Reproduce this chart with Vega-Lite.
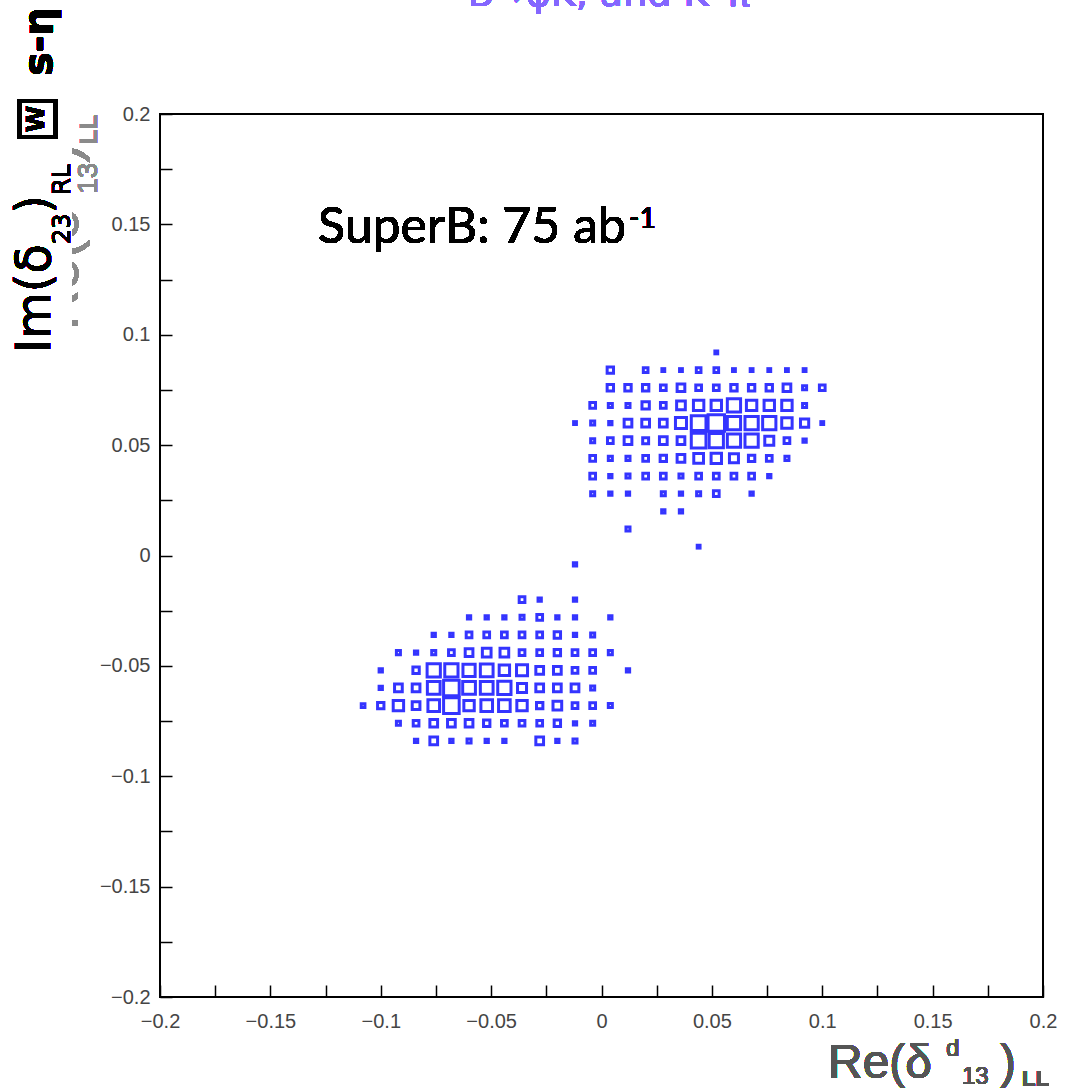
{
  "$schema": "https://vega.github.io/schema/vega-lite/v6.json",
  "width": 883,
  "height": 883,
  "autosize": "none",
  "padding": {"left": 160, "top": 114, "right": 25, "bottom": 94},
  "background": "white",
  "config": {
    "view": {"stroke": "black", "strokeWidth": 2},
    "axis": {"labelFont": "Liberation Sans", "labelFontSize": 20, "labelColor": "#454545", "tickColor": "black", "tickWidth": 1.5, "domain": false, "grid": false}
  },
  "data": {"values": [
    {"re": 0.052, "im": 0.092, "n": 3},
    {"re": 0.004, "im": 0.084, "n": 15}, {"re": 0.02, "im": 0.084, "n": 8}, {"re": 0.028, "im": 0.084, "n": 3}, {"re": 0.036, "im": 0.084, "n": 3}, {"re": 0.044, "im": 0.084, "n": 8}, {"re": 0.052, "im": 0.084, "n": 8}, {"re": 0.06, "im": 0.084, "n": 3}, {"re": 0.068, "im": 0.084, "n": 3}, {"re": 0.076, "im": 0.084, "n": 3}, {"re": 0.084, "im": 0.084, "n": 3}, {"re": 0.092, "im": 0.084, "n": 3},
    {"re": 0.004, "im": 0.076, "n": 15}, {"re": 0.012, "im": 0.076, "n": 15}, {"re": 0.02, "im": 0.076, "n": 15}, {"re": 0.028, "im": 0.076, "n": 12}, {"re": 0.036, "im": 0.076, "n": 22}, {"re": 0.044, "im": 0.076, "n": 12}, {"re": 0.052, "im": 0.076, "n": 12}, {"re": 0.06, "im": 0.076, "n": 15}, {"re": 0.068, "im": 0.076, "n": 15}, {"re": 0.076, "im": 0.076, "n": 15}, {"re": 0.084, "im": 0.076, "n": 22}, {"re": 0.092, "im": 0.076, "n": 6}, {"re": 0.1, "im": 0.076, "n": 12},
    {"re": -0.004, "im": 0.068, "n": 12}, {"re": 0.004, "im": 0.068, "n": 6}, {"re": 0.012, "im": 0.068, "n": 6}, {"re": 0.02, "im": 0.068, "n": 20}, {"re": 0.028, "im": 0.068, "n": 12}, {"re": 0.036, "im": 0.068, "n": 28}, {"re": 0.044, "im": 0.068, "n": 40}, {"re": 0.052, "im": 0.068, "n": 40}, {"re": 0.06, "im": 0.068, "n": 65}, {"re": 0.068, "im": 0.068, "n": 40}, {"re": 0.076, "im": 0.068, "n": 40}, {"re": 0.084, "im": 0.068, "n": 40}, {"re": 0.092, "im": 0.068, "n": 6},
    {"re": -0.012, "im": 0.06, "n": 3}, {"re": -0.004, "im": 0.06, "n": 6}, {"re": 0.004, "im": 0.06, "n": 4}, {"re": 0.012, "im": 0.06, "n": 22}, {"re": 0.02, "im": 0.06, "n": 22}, {"re": 0.028, "im": 0.06, "n": 22}, {"re": 0.036, "im": 0.06, "n": 45}, {"re": 0.044, "im": 0.06, "n": 80}, {"re": 0.052, "im": 0.06, "n": 100}, {"re": 0.06, "im": 0.06, "n": 65}, {"re": 0.068, "im": 0.06, "n": 65}, {"re": 0.076, "im": 0.06, "n": 65}, {"re": 0.084, "im": 0.06, "n": 40}, {"re": 0.092, "im": 0.06, "n": 25}, {"re": 0.1, "im": 0.06, "n": 3},
    {"re": -0.004, "im": 0.052, "n": 6}, {"re": 0.004, "im": 0.052, "n": 12}, {"re": 0.012, "im": 0.052, "n": 22}, {"re": 0.02, "im": 0.052, "n": 13}, {"re": 0.028, "im": 0.052, "n": 22}, {"re": 0.036, "im": 0.052, "n": 22}, {"re": 0.044, "im": 0.052, "n": 80}, {"re": 0.052, "im": 0.052, "n": 75}, {"re": 0.06, "im": 0.052, "n": 65}, {"re": 0.068, "im": 0.052, "n": 65}, {"re": 0.076, "im": 0.052, "n": 30}, {"re": 0.084, "im": 0.052, "n": 12}, {"re": 0.092, "im": 0.052, "n": 4},
    {"re": -0.004, "im": 0.044, "n": 12}, {"re": 0.004, "im": 0.044, "n": 6}, {"re": 0.012, "im": 0.044, "n": 6}, {"re": 0.02, "im": 0.044, "n": 12}, {"re": 0.028, "im": 0.044, "n": 15}, {"re": 0.036, "im": 0.044, "n": 22}, {"re": 0.044, "im": 0.044, "n": 35}, {"re": 0.052, "im": 0.044, "n": 40}, {"re": 0.06, "im": 0.044, "n": 30}, {"re": 0.068, "im": 0.044, "n": 15}, {"re": 0.076, "im": 0.044, "n": 12}, {"re": 0.084, "im": 0.044, "n": 6},
    {"re": -0.004, "im": 0.036, "n": 12}, {"re": 0.004, "im": 0.036, "n": 4}, {"re": 0.012, "im": 0.036, "n": 6}, {"re": 0.02, "im": 0.036, "n": 12}, {"re": 0.028, "im": 0.036, "n": 12}, {"re": 0.036, "im": 0.036, "n": 6}, {"re": 0.044, "im": 0.036, "n": 12}, {"re": 0.052, "im": 0.036, "n": 12}, {"re": 0.06, "im": 0.036, "n": 12}, {"re": 0.068, "im": 0.036, "n": 12}, {"re": 0.076, "im": 0.036, "n": 4},
    {"re": -0.004, "im": 0.028, "n": 6}, {"re": 0.004, "im": 0.028, "n": 4}, {"re": 0.012, "im": 0.028, "n": 4}, {"re": 0.028, "im": 0.028, "n": 6}, {"re": 0.036, "im": 0.028, "n": 4}, {"re": 0.044, "im": 0.028, "n": 6}, {"re": 0.052, "im": 0.028, "n": 12}, {"re": 0.068, "im": 0.028, "n": 4},
    {"re": 0.028, "im": 0.02, "n": 4}, {"re": 0.036, "im": 0.02, "n": 4},
    {"re": 0.012, "im": 0.012, "n": 6},
    {"re": 0.044, "im": 0.004, "n": 3},
    {"re": -0.012, "im": -0.004, "n": 4},
    {"re": -0.036, "im": -0.02, "n": 12}, {"re": -0.028, "im": -0.02, "n": 4}, {"re": -0.012, "im": -0.02, "n": 4},
    {"re": -0.06, "im": -0.028, "n": 4}, {"re": -0.052, "im": -0.028, "n": 4}, {"re": -0.044, "im": -0.028, "n": 4}, {"re": -0.036, "im": -0.028, "n": 6}, {"re": -0.028, "im": -0.028, "n": 12}, {"re": -0.02, "im": -0.028, "n": 4}, {"re": -0.012, "im": -0.028, "n": 4}, {"re": 0.004, "im": -0.028, "n": 4},
    {"re": -0.076, "im": -0.036, "n": 4}, {"re": -0.068, "im": -0.036, "n": 4}, {"re": -0.06, "im": -0.036, "n": 12}, {"re": -0.052, "im": -0.036, "n": 12}, {"re": -0.044, "im": -0.036, "n": 12}, {"re": -0.036, "im": -0.036, "n": 12}, {"re": -0.028, "im": -0.036, "n": 12}, {"re": -0.02, "im": -0.036, "n": 15}, {"re": -0.012, "im": -0.036, "n": 4}, {"re": -0.004, "im": -0.036, "n": 6},
    {"re": -0.092, "im": -0.044, "n": 6}, {"re": -0.084, "im": -0.044, "n": 4}, {"re": -0.076, "im": -0.044, "n": 6}, {"re": -0.068, "im": -0.044, "n": 12}, {"re": -0.06, "im": -0.044, "n": 22}, {"re": -0.052, "im": -0.044, "n": 28}, {"re": -0.044, "im": -0.044, "n": 28}, {"re": -0.036, "im": -0.044, "n": 12}, {"re": -0.028, "im": -0.044, "n": 12}, {"re": -0.02, "im": -0.044, "n": 15}, {"re": -0.012, "im": -0.044, "n": 12}, {"re": -0.004, "im": -0.044, "n": 12}, {"re": 0.004, "im": -0.044, "n": 6},
    {"re": -0.1, "im": -0.052, "n": 4}, {"re": -0.084, "im": -0.052, "n": 15}, {"re": -0.076, "im": -0.052, "n": 65}, {"re": -0.068, "im": -0.052, "n": 65}, {"re": -0.06, "im": -0.052, "n": 55}, {"re": -0.052, "im": -0.052, "n": 60}, {"re": -0.044, "im": -0.052, "n": 40}, {"re": -0.036, "im": -0.052, "n": 45}, {"re": -0.028, "im": -0.052, "n": 22}, {"re": -0.02, "im": -0.052, "n": 22}, {"re": -0.012, "im": -0.052, "n": 12}, {"re": -0.004, "im": -0.052, "n": 12}, {"re": 0.012, "im": -0.052, "n": 4},
    {"re": -0.1, "im": -0.06, "n": 4}, {"re": -0.092, "im": -0.06, "n": 22}, {"re": -0.084, "im": -0.06, "n": 22}, {"re": -0.076, "im": -0.06, "n": 60}, {"re": -0.068, "im": -0.06, "n": 90}, {"re": -0.06, "im": -0.06, "n": 60}, {"re": -0.052, "im": -0.06, "n": 60}, {"re": -0.044, "im": -0.06, "n": 65}, {"re": -0.036, "im": -0.06, "n": 30}, {"re": -0.028, "im": -0.06, "n": 22}, {"re": -0.02, "im": -0.06, "n": 22}, {"re": -0.012, "im": -0.06, "n": 22}, {"re": -0.004, "im": -0.06, "n": 6},
    {"re": -0.108, "im": -0.068, "n": 5}, {"re": -0.1, "im": -0.068, "n": 15}, {"re": -0.092, "im": -0.068, "n": 40}, {"re": -0.084, "im": -0.068, "n": 22}, {"re": -0.076, "im": -0.068, "n": 50}, {"re": -0.068, "im": -0.068, "n": 90}, {"re": -0.06, "im": -0.068, "n": 40}, {"re": -0.052, "im": -0.068, "n": 50}, {"re": -0.044, "im": -0.068, "n": 50}, {"re": -0.036, "im": -0.068, "n": 40}, {"re": -0.028, "im": -0.068, "n": 15}, {"re": -0.02, "im": -0.068, "n": 28}, {"re": -0.012, "im": -0.068, "n": 12}, {"re": -0.004, "im": -0.068, "n": 12}, {"re": 0.004, "im": -0.068, "n": 6},
    {"re": -0.092, "im": -0.076, "n": 6}, {"re": -0.084, "im": -0.076, "n": 12}, {"re": -0.076, "im": -0.076, "n": 22}, {"re": -0.068, "im": -0.076, "n": 22}, {"re": -0.06, "im": -0.076, "n": 22}, {"re": -0.052, "im": -0.076, "n": 15}, {"re": -0.044, "im": -0.076, "n": 12}, {"re": -0.036, "im": -0.076, "n": 12}, {"re": -0.028, "im": -0.076, "n": 12}, {"re": -0.02, "im": -0.076, "n": 15}, {"re": -0.012, "im": -0.076, "n": 4}, {"re": -0.004, "im": -0.076, "n": 6},
    {"re": -0.084, "im": -0.084, "n": 4}, {"re": -0.076, "im": -0.084, "n": 22}, {"re": -0.068, "im": -0.084, "n": 4}, {"re": -0.06, "im": -0.084, "n": 6}, {"re": -0.052, "im": -0.084, "n": 4}, {"re": -0.044, "im": -0.084, "n": 4}, {"re": -0.028, "im": -0.084, "n": 22}, {"re": -0.02, "im": -0.084, "n": 4}, {"re": -0.012, "im": -0.084, "n": 6}
  ]},
  "layer": [
    {
      "mark": {"type": "point", "shape": "square", "filled": false, "stroke": "#3434ff", "strokeWidth": 3, "opacity": 1},
      "encoding": {
        "x": {"field": "re", "type": "quantitative", "scale": {"domain": [-0.2, 0.2], "nice": false, "zero": false},
          "axis": {"title": null, "orient": "bottom", "values": [-0.2, -0.175, -0.15, -0.125, -0.1, -0.075, -0.05, -0.025, 0, 0.025, 0.05, 0.075, 0.1, 0.125, 0.15, 0.175, 0.2], "format": "~g", "labelExpr": "abs(datum.value*20 - round(datum.value*20)) < 0.01 ? datum.label : ''", "tickSize": -12, "labelPadding": 26, "labelFlush": false, "labelOverlap": false}},
        "y": {"field": "im", "type": "quantitative", "scale": {"domain": [-0.2, 0.2], "nice": false, "zero": false},
          "axis": {"title": null, "orient": "left", "values": [-0.2, -0.175, -0.15, -0.125, -0.1, -0.075, -0.05, -0.025, 0, 0.025, 0.05, 0.075, 0.1, 0.125, 0.15, 0.175, 0.2], "format": "~g", "labelExpr": "abs(datum.value*20 - round(datum.value*20)) < 0.01 ? datum.label : ''", "tickSize": -12, "labelPadding": 22, "labelFlush": false, "labelOverlap": false}},
        "size": {"field": "n", "type": "quantitative", "scale": {"type": "linear", "domain": [0, 100], "range": [0, 270]}, "legend": null}
      }
    },
    {"mark": {"type": "text", "text": "Re(δ", "font": "Liberation Sans", "fontSize": 56, "angle": 270, "align": "left", "baseline": "alphabetic", "color": "#8a8a8a"},
     "encoding": {"x": {"datum": -0.2371, "type": "quantitative"}, "y": {"datum": 0.1022, "type": "quantitative"}}},
    {"mark": {"type": "text", "text": "13", "font": "Liberation Sans", "fontSize": 28, "angle": 270, "align": "left", "baseline": "alphabetic", "color": "#8a8a8a"},
     "encoding": {"x": {"datum": -0.2285, "type": "quantitative"}, "y": {"datum": 0.1638, "type": "quantitative"}}},
    {"mark": {"type": "text", "text": ")", "font": "Liberation Sans", "fontSize": 56, "angle": 270, "align": "left", "baseline": "alphabetic", "color": "#8a8a8a"},
     "encoding": {"x": {"datum": -0.2371, "type": "quantitative"}, "y": {"datum": 0.1778, "type": "quantitative"}}},
    {"mark": {"type": "text", "text": "LL", "font": "Liberation Sans", "fontWeight": "bold", "fontSize": 24, "angle": 270, "align": "left", "baseline": "alphabetic", "color": "#8a8a8a"},
     "encoding": {"x": {"datum": -0.2285, "type": "quantitative"}, "y": {"datum": 0.1864, "type": "quantitative"}}},
    {"mark": {"type": "rect", "color": "white"},
     "encoding": {"x": {"datum": -0.2725, "type": "quantitative"}, "x2": {"datum": -0.2399}, "y": {"datum": 0.2086, "type": "quantitative"}, "y2": {"datum": 0.0704}}},
    {"mark": {"type": "text", "text": "SuperB: 75 ab", "font": "Lato", "fontSize": 50, "align": "left", "baseline": "alphabetic", "color": "black"},
     "encoding": {"x": {"datum": -0.1284, "type": "quantitative"}, "y": {"datum": 0.1416, "type": "quantitative"}}},
    {"mark": {"type": "text", "text": "-1", "font": "Lato", "fontSize": 28, "align": "left", "baseline": "alphabetic", "color": "black"},
     "encoding": {"x": {"datum": 0.0125, "type": "quantitative"}, "y": {"datum": 0.1484, "type": "quantitative"}}},
    {"mark": {"type": "text", "text": "Im(δ", "font": "DejaVu Sans", "fontSize": 48, "angle": 270, "align": "left", "baseline": "alphabetic", "color": "black"},
     "encoding": {"x": {"datum": -0.2498, "type": "quantitative"}, "y": {"datum": 0.0917, "type": "quantitative"}}},
    {"mark": {"type": "text", "text": "23", "font": "DejaVu Sans", "fontSize": 24, "angle": 270, "align": "left", "baseline": "alphabetic", "color": "black"},
     "encoding": {"x": {"datum": -0.2408, "type": "quantitative"}, "y": {"datum": 0.1411, "type": "quantitative"}}},
    {"mark": {"type": "text", "text": ")", "font": "DejaVu Sans", "fontSize": 48, "angle": 270, "align": "left", "baseline": "alphabetic", "color": "black"},
     "encoding": {"x": {"datum": -0.2498, "type": "quantitative"}, "y": {"datum": 0.1548, "type": "quantitative"}}},
    {"mark": {"type": "text", "text": "RL", "font": "DejaVu Sans", "fontSize": 24, "angle": 270, "align": "left", "baseline": "alphabetic", "color": "black"},
     "encoding": {"x": {"datum": -0.2408, "type": "quantitative"}, "y": {"datum": 0.1634, "type": "quantitative"}}},
    {"mark": {"type": "point", "shape": "square", "filled": false, "stroke": "black", "strokeWidth": 4, "size": 1300},
     "encoding": {"x": {"datum": -0.2557, "type": "quantitative"}, "y": {"datum": 0.1977, "type": "quantitative"}}},
    {"mark": {"type": "text", "text": "W", "font": "DejaVu Sans", "fontWeight": "bold", "fontSize": 24, "angle": 270, "align": "center", "baseline": "middle", "color": "black"},
     "encoding": {"x": {"datum": -0.2557, "type": "quantitative"}, "y": {"datum": 0.1977, "type": "quantitative"}}},
    {"mark": {"type": "text", "text": "s-η", "font": "DejaVu Sans", "fontWeight": "bold", "fontSize": 40, "angle": 270, "align": "left", "baseline": "alphabetic", "color": "black"},
     "encoding": {"x": {"datum": -0.2489, "type": "quantitative"}, "y": {"datum": 0.2172, "type": "quantitative"}}},
    {"mark": {"type": "text", "text": "B→φK, and K*π", "font": "DejaVu Sans", "fontSize": 38, "align": "center", "baseline": "alphabetic", "color": "#8466ff"},
     "encoding": {"x": {"datum": 0.0034, "type": "quantitative"}, "y": {"datum": 0.2489, "type": "quantitative"}}},
    {"mark": {"type": "text", "text": "Re(δ", "font": "Liberation Sans", "fontSize": 48, "align": "left", "baseline": "alphabetic", "color": "#555555"},
     "encoding": {"x": {"datum": 0.1026, "type": "quantitative"}, "y": {"datum": -0.2367, "type": "quantitative"}}},
    {"mark": {"type": "text", "text": "d", "font": "Liberation Sans", "fontSize": 24, "align": "left", "baseline": "alphabetic", "color": "#555555"},
     "encoding": {"x": {"datum": 0.1561, "type": "quantitative"}, "y": {"datum": -0.2267, "type": "quantitative"}}},
    {"mark": {"type": "text", "text": "13", "font": "Liberation Sans", "fontSize": 24, "align": "left", "baseline": "alphabetic", "color": "#555555"},
     "encoding": {"x": {"datum": 0.1633, "type": "quantitative"}, "y": {"datum": -0.2394, "type": "quantitative"}}},
    {"mark": {"type": "text", "text": ")", "font": "Liberation Sans", "fontSize": 48, "align": "left", "baseline": "alphabetic", "color": "#555555"},
     "encoding": {"x": {"datum": 0.1805, "type": "quantitative"}, "y": {"datum": -0.2367, "type": "quantitative"}}},
    {"mark": {"type": "text", "text": "LL", "font": "Liberation Sans", "fontWeight": "bold", "fontSize": 22, "align": "left", "baseline": "alphabetic", "color": "#555555"},
     "encoding": {"x": {"datum": 0.1905, "type": "quantitative"}, "y": {"datum": -0.2403, "type": "quantitative"}}}
  ]
}
